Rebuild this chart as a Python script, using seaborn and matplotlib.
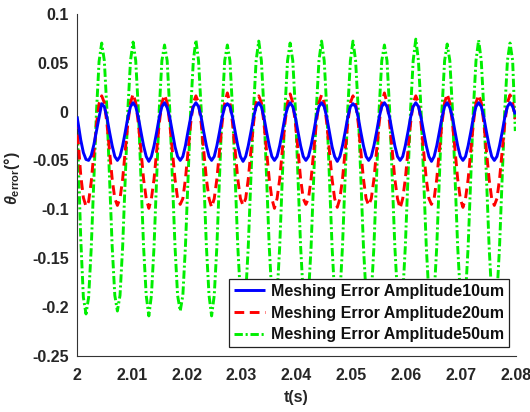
import numpy as np
import pandas as pd
import matplotlib
matplotlib.use("Agg")
import matplotlib.pyplot as plt
import seaborn as sns

# ---------------- data ----------------
t_s = [
    2.0, 2.00021, 2.00068, 2.00116, 2.00164, 2.00212, 2.00259, 2.00307, 2.00355, 2.00402,
    2.00450, 2.00498, 2.00545, 2.00593, 2.00641, 2.00689, 2.00736, 2.00784, 2.00832, 2.00879, 2.00927, 2.00975,
    2.01022, 2.01070, 2.01118, 2.01166, 2.01213, 2.01261, 2.01309, 2.01356, 2.01404, 2.01452, 2.01499, 2.01547,
    2.01595, 2.01643, 2.01690, 2.01738, 2.01786, 2.01833, 2.01881, 2.01929, 2.01976, 2.02024, 2.02072, 2.02120,
    2.02167, 2.02215, 2.02263, 2.02310, 2.02358, 2.02406, 2.02453, 2.02501, 2.02549, 2.02597, 2.02644, 2.02692,
    2.02740, 2.02787, 2.02835, 2.02883, 2.02930, 2.02978, 2.03026, 2.03074, 2.03121, 2.03169, 2.03217, 2.03264,
    2.03312, 2.03360, 2.03407, 2.03455, 2.03503, 2.03551, 2.03598, 2.03646, 2.03694, 2.03741, 2.03789, 2.03837,
    2.03884, 2.03932, 2.03980, 2.04028, 2.04075, 2.04123, 2.04171, 2.04218, 2.04266, 2.04314, 2.04361, 2.04409,
    2.04457, 2.04505, 2.04552, 2.04600, 2.04648, 2.04695, 2.04743, 2.04791, 2.04838, 2.04886, 2.04934, 2.04982,
    2.05029, 2.05077, 2.05125, 2.05172, 2.05220, 2.05268, 2.05315, 2.05363, 2.05411, 2.05459, 2.05506, 2.05554,
    2.05602, 2.05649, 2.05697, 2.05745, 2.05792, 2.05840, 2.05888, 2.05936, 2.05983, 2.06031, 2.06079, 2.06126,
    2.06174, 2.06222, 2.06269, 2.06317, 2.06365, 2.06413, 2.06460, 2.06508, 2.06556, 2.06603, 2.06651, 2.06699,
    2.06746, 2.06794, 2.06842, 2.06890, 2.06937, 2.06985, 2.07033, 2.07080, 2.07128, 2.07176, 2.07223, 2.07271,
    2.07319, 2.07367, 2.07414, 2.07462, 2.07510, 2.07557, 2.07605, 2.07653, 2.07700, 2.07748, 2.07796, 2.07844,
    2.07891, 2.07939, 2.07987,
]

err_10um = [
    -0.005, -0.012, -0.029, -0.042, -0.049, -0.050, -0.045, -0.034, -0.020, -0.006,
    0.008, 0.005, -0.006, -0.021, -0.035, -0.046, -0.050, -0.046, -0.035, -0.021, -0.006, 0.005,
    0.009, 0.005, -0.006, -0.021, -0.035, -0.046, -0.051, -0.046, -0.035, -0.021, -0.006, 0.005,
    0.009, 0.004, -0.006, -0.021, -0.036, -0.046, -0.050, -0.046, -0.035, -0.020, -0.006, 0.005,
    0.009, 0.005, -0.006, -0.021, -0.035, -0.046, -0.050, -0.046, -0.035, -0.021, -0.006, 0.005,
    0.008, 0.005, -0.006, -0.021, -0.035, -0.046, -0.051, -0.046, -0.035, -0.021, -0.006, 0.005,
    0.009, 0.005, -0.006, -0.021, -0.035, -0.046, -0.050, -0.046, -0.035, -0.021, -0.006, 0.004,
    0.009, 0.005, -0.006, -0.021, -0.035, -0.046, -0.050, -0.046, -0.035, -0.021, -0.006, 0.005,
    0.009, 0.005, -0.006, -0.021, -0.036, -0.046, -0.051, -0.046, -0.035, -0.021, -0.006, 0.005,
    0.008, 0.005, -0.006, -0.021, -0.035, -0.046, -0.050, -0.046, -0.035, -0.021, -0.006, 0.005,
    0.009, 0.005, -0.006, -0.021, -0.035, -0.046, -0.050, -0.046, -0.035, -0.021, -0.006, 0.005,
    0.009, 0.005, -0.006, -0.021, -0.035, -0.046, -0.051, -0.046, -0.035, -0.021, -0.006, 0.005,
    0.009, 0.004, -0.006, -0.021, -0.035, -0.046, -0.050, -0.046, -0.035, -0.021, -0.006, 0.005,
    0.009, 0.005, -0.006, -0.021, -0.035, -0.046, -0.050, -0.046, -0.035, -0.021, -0.006, 0.005,
    0.009, 0.005, -0.003,
]

err_20um = [
    -0.008, -0.030, -0.065, -0.088, -0.097, -0.092, -0.072, -0.043, -0.013, 0.008,
    0.016, 0.009, -0.012, -0.040, -0.069, -0.089, -0.096, -0.089, -0.069, -0.040, -0.012, 0.009,
    0.018, 0.009, -0.012, -0.040, -0.069, -0.089, -0.099, -0.089, -0.069, -0.040, -0.012, 0.009,
    0.017, 0.009, -0.012, -0.040, -0.069, -0.089, -0.095, -0.089, -0.069, -0.040, -0.012, 0.009,
    0.016, 0.009, -0.012, -0.040, -0.069, -0.089, -0.098, -0.089, -0.069, -0.040, -0.012, 0.009,
    0.019, 0.009, -0.012, -0.040, -0.069, -0.089, -0.096, -0.089, -0.069, -0.040, -0.012, 0.009,
    0.016, 0.009, -0.012, -0.040, -0.069, -0.089, -0.099, -0.089, -0.069, -0.040, -0.012, 0.009,
    0.018, 0.009, -0.012, -0.040, -0.069, -0.089, -0.095, -0.089, -0.069, -0.040, -0.012, 0.009,
    0.017, 0.009, -0.012, -0.040, -0.069, -0.089, -0.098, -0.089, -0.069, -0.040, -0.012, 0.009,
    0.016, 0.009, -0.012, -0.040, -0.069, -0.089, -0.096, -0.089, -0.069, -0.040, -0.012, 0.009,
    0.019, 0.009, -0.012, -0.040, -0.069, -0.089, -0.099, -0.089, -0.069, -0.040, -0.012, 0.009,
    0.016, 0.009, -0.012, -0.040, -0.069, -0.089, -0.095, -0.089, -0.069, -0.040, -0.012, 0.009,
    0.018, 0.009, -0.012, -0.040, -0.069, -0.089, -0.098, -0.089, -0.069, -0.040, -0.012, 0.009,
    0.017, 0.009, -0.012, -0.040, -0.069, -0.089, -0.096, -0.089, -0.069, -0.040, -0.012, 0.009,
    0.017, 0.009, -0.008,
]

err_50um = [
    -0.005, -0.045, -0.130, -0.190, -0.207, -0.190, -0.140, -0.070, 0.000, 0.051,
    0.070, 0.052, 0.002, -0.068, -0.138, -0.188, -0.204, -0.188, -0.138, -0.068, 0.002, 0.052,
    0.071, 0.052, 0.002, -0.068, -0.138, -0.188, -0.209, -0.188, -0.138, -0.068, 0.002, 0.052,
    0.068, 0.052, 0.002, -0.068, -0.138, -0.188, -0.204, -0.188, -0.138, -0.068, 0.002, 0.052,
    0.073, 0.052, 0.002, -0.068, -0.138, -0.188, -0.209, -0.188, -0.138, -0.068, 0.002, 0.052,
    0.068, 0.052, 0.002, -0.068, -0.138, -0.188, -0.205, -0.188, -0.138, -0.068, 0.002, 0.052,
    0.072, 0.052, 0.002, -0.068, -0.138, -0.188, -0.208, -0.188, -0.138, -0.068, 0.002, 0.052,
    0.070, 0.052, 0.002, -0.068, -0.138, -0.188, -0.204, -0.188, -0.138, -0.068, 0.002, 0.052,
    0.072, 0.052, 0.002, -0.068, -0.138, -0.188, -0.209, -0.188, -0.138, -0.068, 0.002, 0.052,
    0.072, 0.052, 0.002, -0.068, -0.138, -0.188, -0.205, -0.188, -0.138, -0.068, 0.002, 0.052,
    0.068, 0.052, 0.002, -0.068, -0.138, -0.188, -0.208, -0.188, -0.138, -0.068, 0.002, 0.052,
    0.074, 0.052, 0.002, -0.068, -0.138, -0.188, -0.204, -0.188, -0.138, -0.068, 0.002, 0.052,
    0.069, 0.052, 0.002, -0.068, -0.138, -0.188, -0.209, -0.188, -0.138, -0.068, 0.002, 0.052,
    0.073, 0.052, 0.002, -0.068, -0.138, -0.188, -0.206, -0.188, -0.138, -0.068, 0.002, 0.052,
    0.070, 0.052, -0.020,
]

series_names = [
    "Meshing Error Amplitude10um",
    "Meshing Error Amplitude20um",
    "Meshing Error Amplitude50um",
]
x_ticks = [2.0, 2.01, 2.02, 2.03, 2.04, 2.05, 2.06, 2.07, 2.08]
x_tick_labels = ["2", "2.01", "2.02", "2.03", "2.04", "2.05", "2.06", "2.07", "2.08"]
y_ticks = [-0.25, -0.2, -0.15, -0.1, -0.05, 0.0, 0.05, 0.1]
y_tick_labels = ["-0.25", "-0.2", "-0.15", "-0.1", "-0.05", "0", "0.05", "0.1"]

# ---------------- style ----------------
sns.set_theme(style="white")
plt.rcParams["font.family"] = ["Liberation Sans", "DejaVu Sans"]
plt.rcParams["font.weight"] = "bold"
plt.rcParams["axes.unicode_minus"] = False
plt.rcParams["lines.scale_dashes"] = False
plt.rcParams["mathtext.fontset"] = "custom"
plt.rcParams["mathtext.rm"] = "Liberation Sans:bold"
plt.rcParams["mathtext.bf"] = "Liberation Sans:bold"
plt.rcParams["mathtext.it"] = "Liberation Sans:italic:bold"

txt_color = "#262626"
colors = ["#0000ff", "#ff0000", "#00ee00"]
dash_styles = ["", (7, 4), (6, 2, 1.5, 2)]

df = pd.concat([
    pd.DataFrame({"t": t_s, "err": err_10um, "series": series_names[0]}),
    pd.DataFrame({"t": t_s, "err": err_20um, "series": series_names[1]}),
    pd.DataFrame({"t": t_s, "err": err_50um, "series": series_names[2]}),
], ignore_index=True)

fig = plt.figure(figsize=(5.3, 4.12), dpi=100)
ax = fig.add_axes([77 / 530, 1 - 356 / 412, 439 / 530, 342.3 / 412])

sns.lineplot(
    data=df, x="t", y="err", hue="series", style="series",
    hue_order=series_names, style_order=series_names,
    palette=dict(zip(series_names, colors)),
    dashes=dict(zip(series_names, dash_styles)),
    estimator=None, sort=False, linewidth=2.1, legend=False, ax=ax,
)

lines = ax.get_lines()[:3]
for ln, z in zip(lines, [4, 3, 2]):
    ln.set_zorder(z)
    ln.set_solid_capstyle("butt")
    ln.set_dash_capstyle("butt")

ax.set_xlim(2.0, 2.08)
ax.set_ylim(-0.25, 0.1)
ax.set_xticks(x_ticks)
ax.set_xticklabels(x_tick_labels)
ax.set_yticks(y_ticks)
ax.set_yticklabels(y_tick_labels)
ax.tick_params(direction="in", length=4, width=0.8, colors="#333333",
               labelcolor=txt_color, labelsize=11.5)
ax.tick_params(axis="x", pad=9)
ax.tick_params(axis="y", pad=6)
for lab in ax.get_xticklabels() + ax.get_yticklabels():
    lab.set_fontweight("bold")

for side in ["top", "right"]:
    ax.spines[side].set_visible(False)
for side in ["left", "bottom"]:
    ax.spines[side].set_color("#333333")
    ax.spines[side].set_linewidth(0.8)

ax.set_xlabel("t(s)", fontsize=11.5, fontweight="bold", color=txt_color, labelpad=5)
ax.set_ylabel(r"$\theta_{\mathbf{error}}$(°)", fontsize=11.5, fontweight="bold",
              color=txt_color)
ax.yaxis.set_label_coords(-0.125, 0.52)

leg = ax.legend(lines, series_names, loc="lower right",
                bbox_to_anchor=(0.984, 0.026), borderaxespad=0,
                fontsize=11.5, frameon=True, fancybox=False, framealpha=1,
                edgecolor="#222222", handlelength=2.0, handletextpad=0.35,
                labelspacing=0.42, borderpad=0.3)
leg.get_frame().set_linewidth(0.9)
leg.set_zorder(10)
for txt in leg.get_texts():
    txt.set_fontweight("bold")
    txt.set_color("#111111")

fig.savefig("out.png", dpi=100)
